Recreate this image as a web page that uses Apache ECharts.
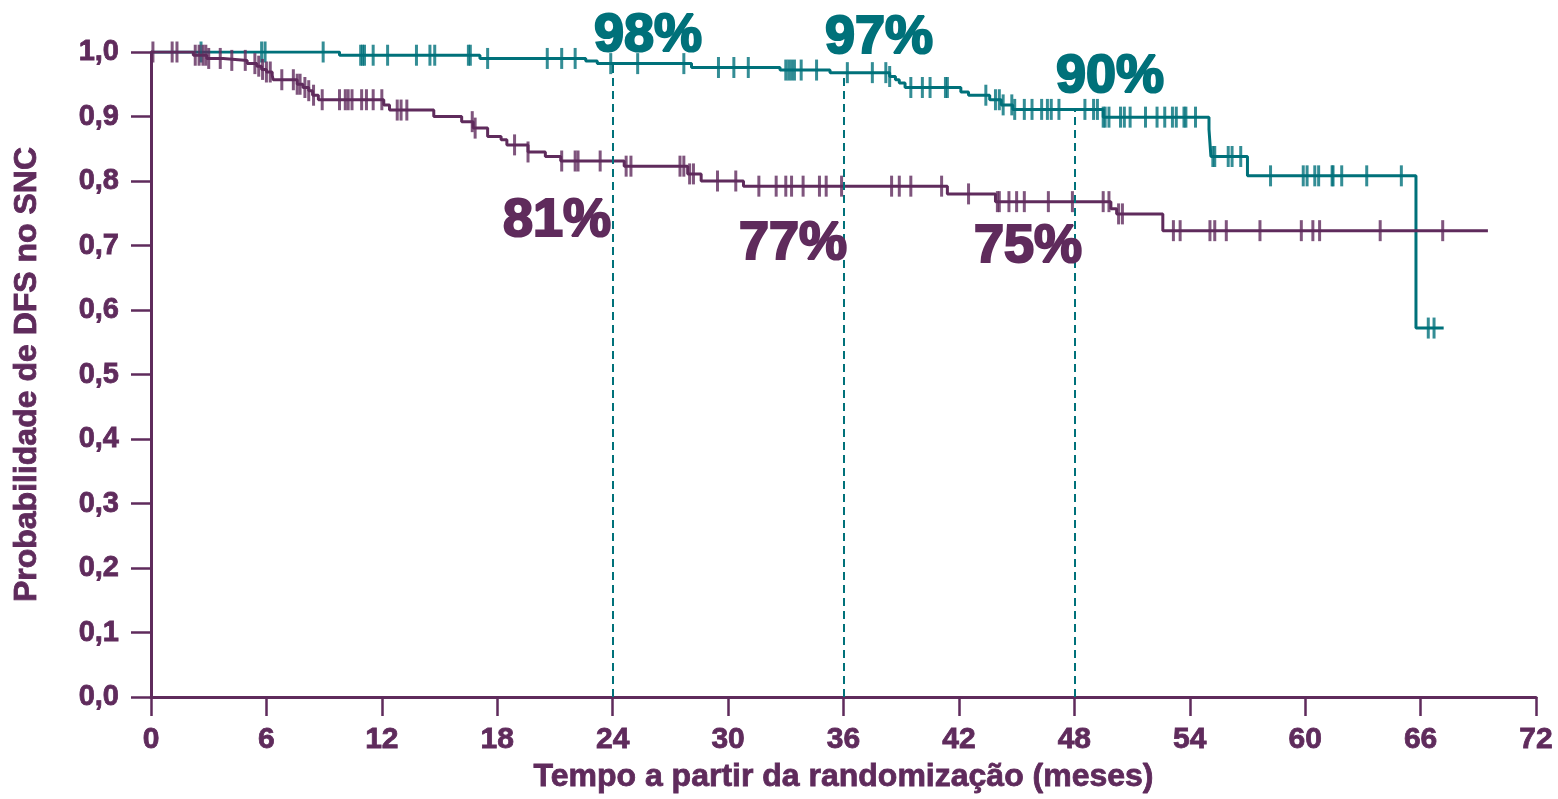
<!DOCTYPE html>
<html>
<head>
<meta charset="utf-8">
<script src="https://cdn.jsdelivr.net/npm/echarts@6/dist/echarts.min.js"></script>
<style>
  html, body { margin: 0; padding: 0; background: #fff; }
</style>
</head>
<body>
<div id="main" style="width: 1558px;height:799px;"></div>
<script>
// cores
var PURPLE = '#5f2b5c';
var TEAL = '#00717a';

// eixos
var xTicks = [0, 6, 12, 18, 24, 30, 36, 42, 48, 54, 60, 66, 72];
var yTicks = [0, 0.1, 0.2, 0.3, 0.4, 0.5, 0.6, 0.7, 0.8, 0.9, 1.0];

// curva teal: [mes, probabilidade] nos pontos de queda
var tealSteps = [
  [0, 1.0], [9.8, 0.995], [17.1, 0.990], [22.6, 0.986], [23.2, 0.982],
  [28.1, 0.976], [32.7, 0.972], [35.3, 0.968], [38.4, 0.962], [38.7, 0.957],
  [38.9, 0.952], [39.2, 0.945], [42.1, 0.938], [42.5, 0.933], [43.6, 0.926],
  [44.2, 0.918], [44.8, 0.911], [49.5, 0.899], [55.0, 0.880], [55.1, 0.838],
  [57.0, 0.808], [65.76, 0.572], [67.2, 0.572]
];
// censuras teal (meses)
var tealCensor = [
  2.6, 5.75, 5.93, 8.95, 10.9, 11.0, 11.1, 11.55, 12.3, 13.8, 14.5, 14.75,
  16.5, 16.6, 17.5, 20.6, 21.35, 22.05, 23.9, 25.3, 27.7, 29.5, 30.3, 31.05,
  33.0, 33.15, 33.3, 33.45, 33.8, 34.6, 36.2, 37.5, 38.2, 38.4, 39.5, 40.1,
  40.5, 41.3, 41.4, 43.4, 43.9, 44.1, 44.3, 44.75, 44.9, 45.4, 45.8, 46.3,
  46.6, 46.8, 47.2, 48.55, 49.0, 49.2, 49.5, 49.6, 49.8, 50.4, 50.6, 50.9,
  51.7, 52.3, 52.7, 53.1, 53.3, 53.7, 53.8, 54.3, 55.2, 55.3, 56.0, 56.2,
  56.65, 58.2, 59.9, 60.1, 60.5, 60.7, 61.4, 61.45, 61.9, 63.2, 65.0,
  66.4, 66.7
];

// curva roxa
var purpleSteps = [
  [0, 1.0], [2.2, 0.995], [2.9, 0.990], [3.75, 0.987], [5.0, 0.982],
  [5.5, 0.978], [5.75, 0.973], [6.0, 0.969], [6.3, 0.964], [6.35, 0.957],
  [7.6, 0.950], [7.9, 0.945], [8.2, 0.940], [8.4, 0.933], [8.7, 0.926],
  [12.1, 0.918], [12.4, 0.910], [14.7, 0.900], [16.15, 0.892], [16.75, 0.882],
  [17.5, 0.869], [18.2, 0.864], [18.5, 0.856], [19.6, 0.845], [20.5, 0.838],
  [21.3, 0.831], [24.6, 0.823], [27.9, 0.811], [28.6, 0.800], [30.8, 0.792],
  [41.4, 0.780], [43.9, 0.768], [49.9, 0.757], [50.2, 0.749], [52.6, 0.723],
  [69.5, 0.723]
];
var purpleCensor = [
  0.1, 1.1, 1.35, 2.3, 2.5, 2.7, 2.85, 3.0, 3.6, 4.2, 4.9, 5.4, 5.6, 5.8,
  6.0, 6.2, 6.8, 7.4, 7.6, 7.75, 8.0, 8.2, 8.45, 8.9, 9.8, 10.1, 10.25,
  10.45, 10.95, 11.2, 11.55, 12.0, 12.8, 13.0, 13.3, 16.7, 16.85, 18.9,
  19.6, 21.35, 22.05, 22.2, 23.35, 24.7, 24.95, 27.5, 27.7, 28.0, 28.2,
  29.45, 30.4, 31.6, 32.5, 33.0, 33.3, 33.9, 34.75, 35.1, 35.9, 38.5, 38.9,
  39.5, 41.1, 42.5, 44.0, 44.1, 44.6, 45.0, 45.4, 46.65, 47.9, 49.5, 49.8,
  50.3, 50.5, 53.15, 53.5, 55.05, 55.3, 55.9, 57.65, 59.8, 60.4, 60.75,
  63.9, 67.15
];

// linhas tracejadas (marcos) e rótulos
var landmarks = [24, 36, 48];
var tealLabels = ['98%', '97%', '90%'];
var purpleLabels = ['81%', '77%', '75%'];

function survAt(steps, t) {
  var v = steps[0][1];
  for (var i = 0; i < steps.length; i++) {
    if (steps[i][0] <= t) v = steps[i][1];
  }
  return v;
}

function censorData(steps, times) {
  return times.map(function (t) { return [t, survAt(steps, t)]; });
}

var myChart = echarts.init(document.getElementById('main'));

var dashLines = landmarks.map(function (t) {
  return [{ coord: [t, 0] }, { coord: [t, survAt(tealSteps, t)] }];
});

function pctText(txt, x, y, color) {
  return {
    type: 'text', x: x, y: y, z: 100,
    style: {
      text: txt, fill: color, stroke: color, lineWidth: 2.2,
      align: 'center', verticalAlign: 'middle',
      font: 'bold 54px "Liberation Sans", Arial, sans-serif'
    }
  };
}

var labelFont = {
  color: PURPLE, fontWeight: 'bold', fontFamily: 'Liberation Sans',
  textBorderColor: PURPLE, textBorderWidth: 0.8
};

option = {
  animation: false,
  backgroundColor: '#fff',
  grid: { left: 151, right: 22, top: 52, bottom: 102, containLabel: false, outerBoundsMode: 'none' },
  xAxis: {
    type: 'value', min: 0, max: 72, interval: 6,
    name: 'Tempo a partir da randomização (meses)',
    nameLocation: 'middle', nameGap: 64,
    nameTextStyle: Object.assign({ fontSize: 32 }, labelFont),
    axisLine: { lineStyle: { color: PURPLE, width: 3 } },
    axisTick: { show: true, length: 19, lineStyle: { color: PURPLE, width: 2.5 } },
    axisLabel: Object.assign({ fontSize: 30, margin: 28 }, labelFont),
    splitLine: { show: false }
  },
  yAxis: {
    type: 'value', min: 0, max: 1, interval: 0.1,
    name: 'Probabilidade de DFS no SNC',
    nameLocation: 'middle', nameGap: 108,
    nameTextStyle: Object.assign({ fontSize: 32 }, labelFont),
    axisLine: { show: true, lineStyle: { color: PURPLE, width: 3 } },
    axisTick: { show: true, length: 20, lineStyle: { color: PURPLE, width: 2.5 } },
    axisLabel: Object.assign({
      fontSize: 29, margin: 32,
      formatter: function (v) { return v.toFixed(1).replace('.', ','); }
    }, labelFont),
    splitLine: { show: false }
  },
  series: [
    {
      name: 'teal', type: 'line', step: 'end', data: tealSteps,
      showSymbol: false, symbol: 'none',
      lineStyle: { color: TEAL, width: 3 },
      z: 3,
      markLine: {
        silent: true, symbol: 'none',
        label: { show: false },
        lineStyle: { color: TEAL, width: 2, type: [8, 5] },
        data: dashLines
      }
    },
    {
      name: 'tealCensor', type: 'scatter', data: censorData(tealSteps, tealCensor),
      symbol: 'rect', symbolSize: [3, 21],
      itemStyle: { color: TEAL }, z: 3
    },
    {
      name: 'purple', type: 'line', step: 'end', data: purpleSteps,
      showSymbol: false, symbol: 'none',
      lineStyle: { color: PURPLE, width: 3 },
      z: 4
    },
    {
      name: 'purpleCensor', type: 'scatter', data: censorData(purpleSteps, purpleCensor),
      symbol: 'rect', symbolSize: [3, 21],
      itemStyle: { color: PURPLE }, z: 4
    }
  ],
  graphic: [
    pctText(tealLabels[0], 648, 36, TEAL),
    pctText(tealLabels[1], 879, 38, TEAL),
    pctText(tealLabels[2], 1110, 77, TEAL),
    pctText(purpleLabels[0], 557, 221, PURPLE),
    pctText(purpleLabels[1], 793, 244, PURPLE),
    pctText(purpleLabels[2], 1028, 247, PURPLE)
  ]
};
myChart.setOption(option);
</script>
</body>
</html>
